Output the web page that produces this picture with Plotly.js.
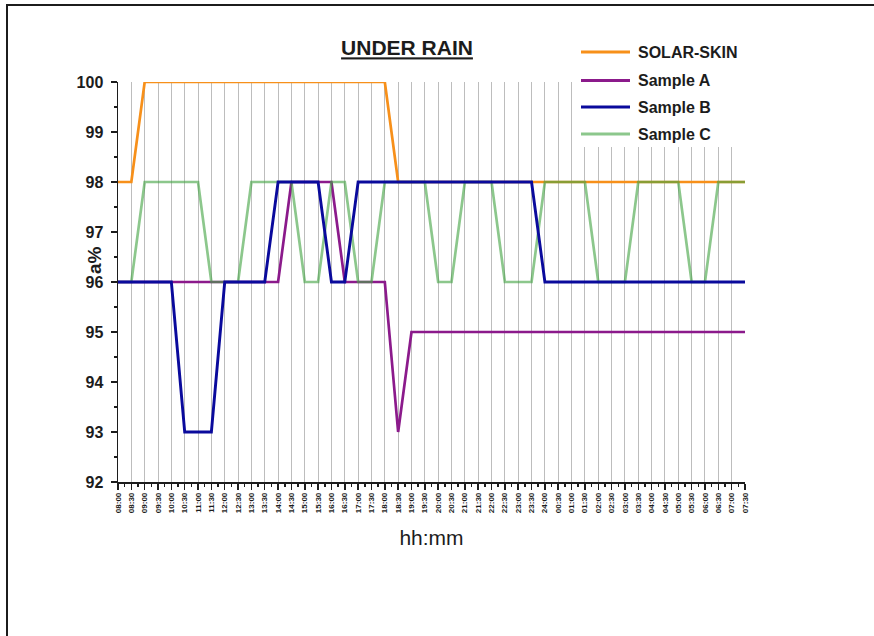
<!DOCTYPE html>
<html>
<head>
<meta charset="utf-8">
<script src="https://cdn.plot.ly/plotly-3.0.1.min.js"></script>
<style>
  html, body { margin: 0; padding: 0; background: #fff; }
  #wrap { position: relative; width: 874px; height: 636px; overflow: hidden; }
  #chart { position: absolute; left: 0; top: 0; width: 874px; height: 636px; }
  #frame { position: absolute; left: 6px; top: 4px; right: -4px; bottom: -4px;
           border-top: 2px solid #1c1c1c; border-left: 2px solid #1c1c1c; pointer-events: none; }
</style>
</head>
<body>
<div id="wrap"><div id="chart"></div><div id="frame"></div></div>
<script>
// ---- data ----
const times = ['08:00','08:30','09:00','09:30','10:00','10:30','11:00','11:30','12:00','12:30',
  '13:00','13:30','14:00','14:30','15:00','15:30','16:00','16:30','17:00','17:30',
  '18:00','18:30','19:00','19:30','20:00','20:30','21:00','21:30','22:00','22:30',
  '23:00','23:30','24:00','00:30','01:00','01:30','02:00','02:30','03:00','03:30',
  '04:00','04:30','05:00','05:30','06:00','06:30','07:00','07:30'];

const seriesNames = ['SOLAR-SKIN', 'Sample A', 'Sample B', 'Sample C'];

const solarSkin = [98,98,100,100,100,100,100,100,100,100,
  100,100,100,100,100,100,100,100,100,100,
  100,98,98,98,98,98,98,98,98,98,
  98,98,98,98,98,98,98,98,98,98,
  98,98,98,98,98,98,98,98];

const sampleA = [96,96,96,96,96,96,96,96,96,96,
  96,96,96,98,98,98,98,96,96,96,
  96,93,95,95,95,95,95,95,95,95,
  95,95,95,95,95,95,95,95,95,95,
  95,95,95,95,95,95,95,95];

const sampleB = [96,96,96,96,96,93,93,93,96,96,
  96,96,98,98,98,98,96,96,98,98,
  98,98,98,98,98,98,98,98,98,98,
  98,98,96,96,96,96,96,96,96,96,
  96,96,96,96,96,96,96,96];

const sampleC = [96,96,98,98,98,98,98,96,96,96,
  98,98,98,98,96,96,98,98,96,96,
  98,98,98,98,96,96,98,98,98,96,
  96,96,98,98,98,98,96,96,96,98,
  98,98,98,96,96,98,98,98];

const yTicks = [92,93,94,95,96,97,98,99,100];

// ---- styling ----
const FONT = 'Liberation Sans, Arial, sans-serif';
const INK = '#1c1c1c';
const colors = {
  'SOLAR-SKIN': '#F7901A',
  'Sample A': '#8B1A8B',
  'Sample B': '#0A0A9C',
  'Sample C': 'rgba(70,165,70,0.62)'
};
const widths = {'SOLAR-SKIN': 2.7, 'Sample A': 2.7, 'Sample B': 2.9, 'Sample C': 2.7};

const xIdx = times.map((_, i) => i);
const valuesByName = {
  'SOLAR-SKIN': solarSkin, 'Sample A': sampleA, 'Sample B': sampleB, 'Sample C': sampleC
};
const drawOrder = ['SOLAR-SKIN', 'Sample A', 'Sample C', 'Sample B'];

const traces = drawOrder.map(name => ({
  type: 'scatter', mode: 'lines', name: name,
  x: xIdx, y: valuesByName[name],
  line: {color: colors[name], width: widths[name]},
  showlegend: false, hoverinfo: 'skip'
}));

// plot area in pixels
const L = 118, R = 745, T = 82, B = 482;
const px = v => (v - L) / (R - L);
const py = v => (B - v) / (B - T);

// custom legend (white box + line samples + labels)
const shapes = [{
  type: 'rect', xref: 'paper', yref: 'paper', layer: 'above',
  x0: px(576), x1: px(752), y0: py(147), y1: py(80),
  fillcolor: '#ffffff', line: {width: 0}
}];
const annotations = [];
const legendY = [52, 80.5, 107, 134];
seriesNames.forEach((name, k) => {
  shapes.push({
    type: 'line', xref: 'paper', yref: 'paper', layer: 'above',
    x0: px(581), x1: px(630), y0: py(legendY[k]), y1: py(legendY[k]),
    line: {color: colors[name], width: 3}
  });
  annotations.push({
    xref: 'paper', yref: 'paper', x: px(636), y: py(legendY[k]),
    xanchor: 'left', yanchor: 'middle', showarrow: false,
    text: name, font: {family: FONT, size: 16, weight: 'bold', color: INK}
  });
});
// y axis title
annotations.push({
  xref: 'paper', yref: 'paper', x: px(94), y: py(260),
  xanchor: 'center', yanchor: 'middle', showarrow: false, textangle: -90,
  text: 'a%', font: {family: FONT, size: 19, weight: 'bold', color: INK}
});

const layout = {
  width: 874, height: 636,
  paper_bgcolor: '#ffffff', plot_bgcolor: '#ffffff',
  margin: {l: L, r: 874 - R, t: T, b: 636 - B, pad: 0},
  showlegend: false,
  title: {
    text: 'UNDER RAIN', x: 407 / 874, xanchor: 'center',
    y: 1 - 48 / 636, yanchor: 'middle', xref: 'container', yref: 'container',
    font: {family: FONT, size: 21, weight: 'bold', color: INK, lineposition: 'under'}
  },
  xaxis: {
    range: [0, 47], tickmode: 'array', tickvals: xIdx, ticktext: times,
    tickangle: -90, tickfont: {family: FONT, size: 8, weight: 'bold', color: INK},
    ticks: 'outside', ticklen: 6, tickwidth: 1.5, tickcolor: INK,
    showline: true, linecolor: INK, linewidth: 1.5,
    showgrid: true, gridcolor: '#bdbdbd', gridwidth: 1, zeroline: false,
    minor: {dtick: 0.5, tick0: 0, ticks: 'outside', ticklen: 3, tickwidth: 1.5, tickcolor: INK, showgrid: false},
    title: {text: 'hh:mm', font: {family: FONT, size: 21, color: INK}, standoff: 18},
    automargin: false, fixedrange: true
  },
  yaxis: {
    range: [92, 100], tickmode: 'array', tickvals: yTicks, ticktext: yTicks.map(String),
    tickfont: {family: FONT, size: 16, weight: 'bold', color: INK},
    ticks: 'outside', ticklen: 6, tickwidth: 1.5, tickcolor: INK, ticklabelstandoff: 4,
    showline: true, linecolor: INK, linewidth: 1.5,
    showgrid: false, zeroline: false,
    minor: {dtick: 0.5, tick0: 92, ticks: 'outside', ticklen: 3, tickwidth: 1.5, tickcolor: INK, showgrid: false},
    automargin: false, fixedrange: true
  },
  shapes: shapes,
  annotations: annotations
};

Plotly.newPlot('chart', traces, layout, {staticPlot: true, displayModeBar: false});
</script>
</body>
</html>
